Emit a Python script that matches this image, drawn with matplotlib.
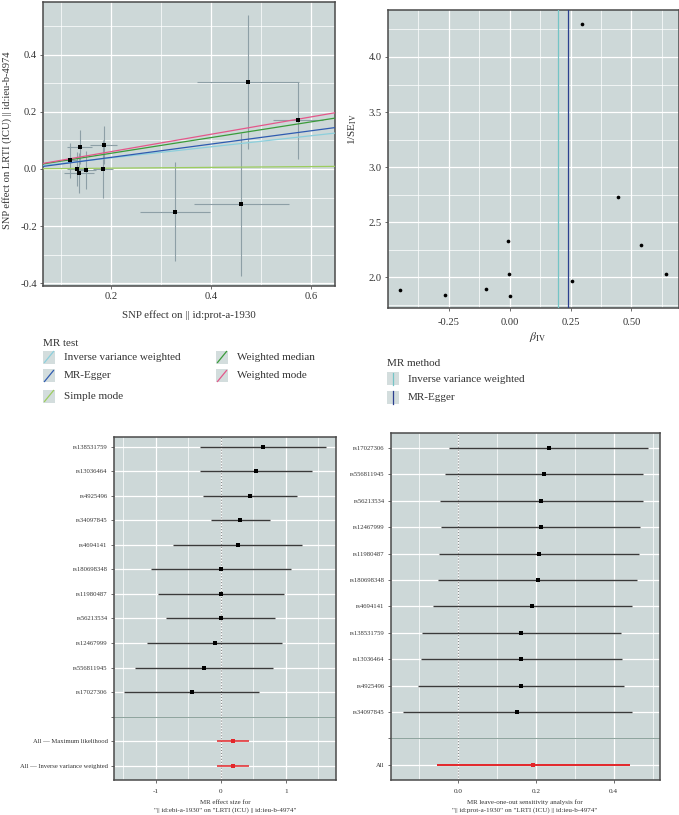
import matplotlib
matplotlib.use('Agg')
import matplotlib.pyplot as plt
import numpy as np
from matplotlib.patches import Rectangle
from matplotlib.lines import Line2D
from matplotlib.ticker import FixedLocator, FormatStrFormatter, NullFormatter

plt.rcParams['font.family'] = ['Liberation Serif', 'DejaVu Serif']
plt.rcParams['mathtext.fontset'] = 'stix'

# ---------------- data ----------------
# scatter plot (SNP effects on exposure / outcome)
scat_bx = [0.117, 0.131, 0.135, 0.137, 0.150, 0.183, 0.185, 0.328, 0.461, 0.474, 0.574]
scat_by = [0.030, 0.000, -0.014, 0.077, -0.003, 0.000, 0.084, -0.149, -0.124, 0.305, 0.170]
scat_sex = [0.015, 0.020, 0.030, 0.025, 0.020, 0.020, 0.027, 0.070, 0.095, 0.102, 0.050]
scat_sey = [0.060, 0.060, 0.071, 0.060, 0.066, 0.100, 0.068, 0.174, 0.250, 0.234, 0.134]

mr_methods = ["Inverse variance weighted", "MR-Egger", "Simple mode", "Weighted median", "Weighted mode"]
mr_slopes = [0.194, 0.233, 0.014, 0.275, 0.304]
mr_intercepts = [0.0, -0.006, 0.0, 0.0, 0.0]
mr_colors = ['#8ccfdc', '#2f5bb0', '#9ccc5e', '#3a9b3a', '#e4578a']

# single SNP Wald ratios (forest & funnel)
snps = ["rs138531759", "rs13036464", "rs4925496", "rs34097845", "rs4694141", "rs180698348",
        "rs11980487", "rs56213534", "rs12467999", "rs556811945", "rs17027306"]
snp_b = [0.643, 0.540, 0.443, 0.298, 0.255, 0.001, -0.004, -0.007, -0.098, -0.266, -0.448]
snp_se = [0.4926, 0.4367, 0.367, 0.2326, 0.509, 0.547, 0.493, 0.429, 0.529, 0.5426, 0.5305]
summary_labels = ["All \u2014 Maximum likelihood", "All \u2014 Inverse variance weighted"]
summary_b = [0.190, 0.190]
summary_se = [0.127, 0.127]

funnel_methods = ["Inverse variance weighted", "MR-Egger"]
funnel_b = [0.197, 0.238]
funnel_colors = ['#74c4c6', '#2b3f8f']

# leave-one-out
loo_snps = ["rs17027306", "rs556811945", "rs56213534", "rs12467999", "rs11980487", "rs180698348",
            "rs4694141", "rs138531759", "rs13036464", "rs4925496", "rs34097845"]
loo_b = [0.233, 0.221, 0.214, 0.212, 0.209, 0.205, 0.191, 0.162, 0.162, 0.161, 0.152]
loo_lo = [-0.023, -0.034, -0.046, -0.045, -0.050, -0.051, -0.065, -0.094, -0.096, -0.103, -0.143]
loo_hi = [0.489, 0.476, 0.474, 0.468, 0.464, 0.460, 0.447, 0.419, 0.421, 0.426, 0.448]
loo_all = [0.193, -0.054, 0.441]

# ---------------- figure ----------------
W, H = 679, 815
DPI = 100
fig = plt.figure(figsize=(W / DPI, H / DPI), dpi=DPI)
PANEL = '#cdd8d8'
TXT = '#333333'


def fx(x):
    return x / W


def fy(y):
    return 1 - y / H


def px_axes(x0, y0, x1, y1):
    return fig.add_axes([x0 / W, 1 - y1 / H, (x1 - x0) / W, (y1 - y0) / H])


def style(ax, labelsize):
    ax.set_facecolor(PANEL)
    for s in ax.spines.values():
        s.set_color('#4a4a4a')
        s.set_linewidth(1.1)
    ax.set_axisbelow(True)
    ax.grid(which='major', color='white', lw=0.9)
    ax.grid(which='minor', color='white', lw=0.5)
    ax.tick_params(which='major', length=2.5, width=0.6, color='#555555', labelsize=labelsize,
                   labelcolor=TXT, pad=2)
    ax.tick_params(which='minor', length=0)


# ---- top-left: scatter ----
ax1 = px_axes(43, 2, 335, 286)
style(ax1, 7.6)
ax1.set_xlim(0.064, 0.648)
ax1.set_ylim(-0.41, 0.585)
ax1.xaxis.set_major_locator(FixedLocator([0.2, 0.4, 0.6]))
ax1.xaxis.set_minor_locator(FixedLocator([0.1, 0.3, 0.5]))
ax1.yaxis.set_major_locator(FixedLocator([-0.4, -0.2, 0.0, 0.2, 0.4]))
ax1.yaxis.set_minor_locator(FixedLocator([-0.3, -0.1, 0.1, 0.3, 0.5]))
ax1.xaxis.set_major_formatter(FormatStrFormatter('%.1f'))
ax1.yaxis.set_major_formatter(FormatStrFormatter('%.1f'))
ax1.errorbar(scat_bx, scat_by, xerr=scat_sex, yerr=scat_sey, fmt='none',
             ecolor='#8d9fa6', elinewidth=0.8, capsize=0, zorder=2)
for m, s, i, c in zip(mr_methods, mr_slopes, mr_intercepts, mr_colors):
    ax1.axline((0, i), slope=s, color=c, lw=0.9, zorder=3)
ax1.scatter(scat_bx, scat_by, s=7, c='black', marker='s', zorder=4, linewidths=0)
fig.text(fx(189), fy(315), 'SNP effect on || id:prot-a-1930', ha='center', va='center',
         fontsize=7.8, color=TXT)
fig.text(fx(7), fy(140), 'SNP effect on LRTI (ICU) || id:ieu-b-4974', ha='center', va='center',
         rotation=90, fontsize=7.6, color=TXT)

# ---- top-right: funnel ----
ax2 = px_axes(388, 10, 679, 308)
style(ax2, 7.6)
ax2.set_xlim(-0.499, 0.695)
ax2.set_ylim(1.722, 4.426)
ax2.xaxis.set_major_locator(FixedLocator([-0.25, 0.0, 0.25, 0.5]))
ax2.xaxis.set_minor_locator(FixedLocator([-0.375, -0.125, 0.125, 0.375, 0.625]))
ax2.yaxis.set_major_locator(FixedLocator([2.0, 2.5, 3.0, 3.5, 4.0]))
ax2.yaxis.set_minor_locator(FixedLocator([1.75, 2.25, 2.75, 3.25, 3.75, 4.25]))
ax2.xaxis.set_major_formatter(FormatStrFormatter('%.2f'))
ax2.yaxis.set_major_formatter(FormatStrFormatter('%.1f'))
ax2.tick_params(axis='x', pad=5)
for m, b, c in zip(funnel_methods, funnel_b, funnel_colors):
    ax2.axvline(b, color=c, lw=0.9, zorder=3)
ax2.scatter(snp_b, 1 / np.array(snp_se), s=7, c='black', zorder=4, linewidths=0)
fig.text(fx(353), fy(129), r'1/SE$_{\mathrm{IV}}$', ha='center', va='center', rotation=90,
         fontsize=8, color=TXT)
fig.text(fx(537), fy(337), r'$\beta_{\mathrm{IV}}$', ha='center', va='center', fontsize=8.5, color=TXT)


# ---- legends (manual) ----
def key(x, y, color, kind):
    fig.add_artist(Rectangle((fx(x), fy(y + 6.5)), 12 / W, 13 / H, transform=fig.transFigure,
                             facecolor='#d3dddd', edgecolor='none'))
    if kind == 'diag':
        fig.add_artist(Line2D([fx(x + 1.5), fx(x + 10.5)], [fy(y + 5.5), fy(y - 5.5)],
                              transform=fig.transFigure, color=color, lw=0.9))
    else:
        fig.add_artist(Line2D([fx(x + 6), fx(x + 6)], [fy(y + 6.5), fy(y - 6.5)],
                              transform=fig.transFigure, color=color, lw=0.9))


fig.text(fx(43), fy(343), 'MR test', ha='left', va='center', fontsize=8, color=TXT)
leg_pos = [(43, 357), (43, 376), (43, 396), (216, 357), (216, 376)]
for (x, y), m, c in zip(leg_pos, mr_methods, mr_colors):
    key(x, y, c, 'diag')
    fig.text(fx(x + 21), fy(y), m, ha='left', va='center', fontsize=8, color=TXT)

fig.text(fx(387), fy(363), 'MR method', ha='left', va='center', fontsize=8, color=TXT)
for y, m, c in zip([379, 397], funnel_methods, funnel_colors):
    key(387, y, c, 'vert')
    fig.text(fx(408), fy(y), m, ha='left', va='center', fontsize=8, color=TXT)

# ---- bottom-left: forest ----
ax3 = px_axes(114, 437, 336, 780)
style(ax3, 4.8)
n_snp = len(snps)
rows3 = list(range(n_snp + 3))
ax3.set_ylim(n_snp + 2 + 0.58, -0.39)
ax3.set_xlim(-1.646, 1.77)
ax3.xaxis.set_major_locator(FixedLocator([-1, 0, 1]))
ax3.xaxis.set_minor_locator(FixedLocator([-1.5, -0.5, 0.5, 1.5]))
ax3.xaxis.set_major_formatter(FormatStrFormatter('%d'))
ax3.yaxis.set_major_locator(FixedLocator(rows3))
ax3.set_yticklabels(snps + [''] + summary_labels)
ax3.tick_params(axis='x', labelsize=5.2, pad=4)
ax3.axhline(n_snp, color='#8fa59f', lw=0.8, zorder=2)
ax3.axvline(0, color='#8a8a8a', lw=0.8, ls=':', zorder=2)
b3 = np.array(snp_b)
se3 = np.array(snp_se)
r3 = np.arange(n_snp)
ax3.hlines(r3, b3 - 1.96 * se3, b3 + 1.96 * se3, color='#3a3a3a', lw=1.0, zorder=3)
ax3.scatter(b3, r3, s=6, c='black', marker='s', zorder=4, linewidths=0)
sb = np.array(summary_b)
ss = np.array(summary_se)
rs = np.arange(n_snp + 1, n_snp + 3)
ax3.hlines(rs, sb - 1.96 * ss, sb + 1.96 * ss, color='#e3262a', lw=1.1, zorder=3)
ax3.scatter(sb, rs, s=6, c='#e3262a', marker='s', zorder=4, linewidths=0)
fig.text(fx(225), fy(802.5), 'MR effect size for', ha='center', va='center', fontsize=5, color=TXT)
fig.text(fx(225), fy(810), '"|| id:ebi-a-1930" on "LRTI (ICU) || id:ieu-b-4974"', ha='center',
         va='center', fontsize=5, color=TXT)

# ---- bottom-right: leave-one-out ----
ax4 = px_axes(391, 433, 660, 780)
style(ax4, 4.8)
n_loo = len(loo_snps)
rows4 = list(range(n_loo + 2))
ax4.set_ylim(n_loo + 1 + 0.58, -0.57)
ax4.set_xlim(-0.173, 0.519)
ax4.xaxis.set_major_locator(FixedLocator([0.0, 0.2, 0.4]))
ax4.xaxis.set_minor_locator(FixedLocator([-0.1, 0.1, 0.3, 0.5]))
ax4.xaxis.set_major_formatter(FormatStrFormatter('%.1f'))
ax4.yaxis.set_major_locator(FixedLocator(rows4))
ax4.set_yticklabels(loo_snps + ['', 'All'])
ax4.tick_params(axis='x', labelsize=5.2, pad=4)
ax4.axhline(n_loo, color='#8fa59f', lw=0.8, zorder=2)
ax4.axvline(0, color='#8a8a8a', lw=0.8, ls=':', zorder=2)
r4 = np.arange(n_loo)
ax4.hlines(r4, loo_lo, loo_hi, color='#3a3a3a', lw=1.0, zorder=3)
ax4.scatter(loo_b, r4, s=6, c='black', marker='s', zorder=4, linewidths=0)
ax4.hlines([n_loo + 1], [loo_all[1]], [loo_all[2]], color='#e3262a', lw=1.4, zorder=3)
ax4.scatter([loo_all[0]], [n_loo + 1], s=6, c='#e3262a', marker='s', zorder=4, linewidths=0)
fig.text(fx(525), fy(802.5), 'MR leave-one-out sensitivity analysis for', ha='center', va='center',
         fontsize=5, color=TXT)
fig.text(fx(525), fy(810.5), '"|| id:prot-a-1930" on "LRTI (ICU) || id:ieu-b-4974"', ha='center',
         va='center', fontsize=5, color=TXT)

fig.savefig('out.png', dpi=DPI, facecolor='white')
